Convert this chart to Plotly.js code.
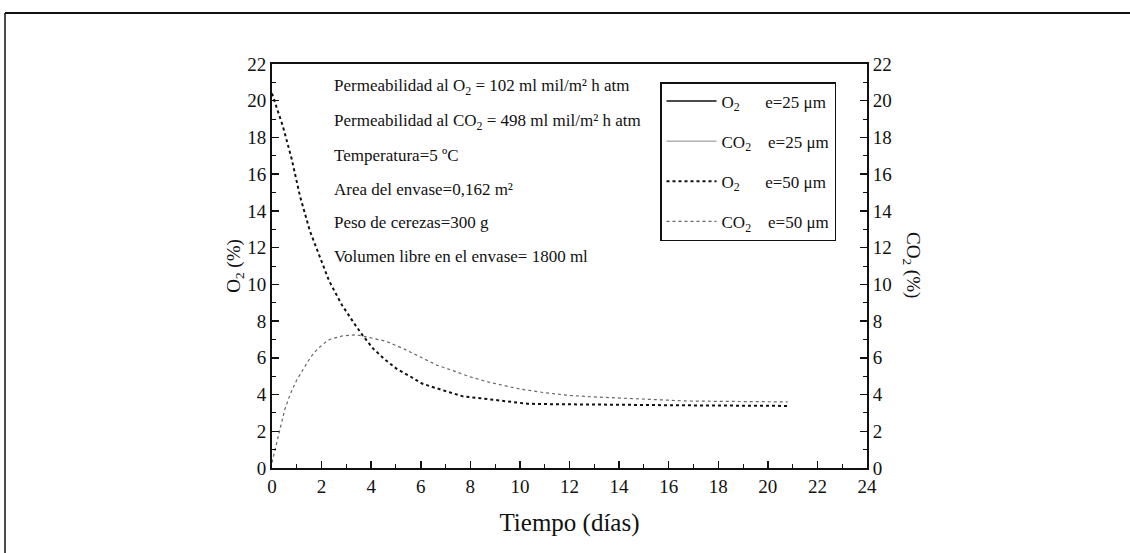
<!DOCTYPE html>
<html>
<head>
<meta charset="utf-8">
<script src="https://cdn.plot.ly/plotly-3.0.1.min.js"></script>
<style>html,body{margin:0;padding:0;background:#fff;}#chart{width:1130px;height:553px;}</style>
</head>
<body>
<div id="chart"></div>
<script>
// Time (days)
const tO2 = [0, 0.44, 0.8, 1.13, 1.53, 2.0, 2.3, 2.81, 3.0, 3.3, 3.67, 4.08, 4.56, 5.03, 5.56, 6.05, 6.5, 7.18, 7.7, 8.4, 9.07, 9.7, 10.3, 11, 12, 13, 14, 15, 16, 17, 18, 19, 20, 20.8];
const o2_50 = [20.4, 18.6, 16.8, 14.8, 12.9, 11.2, 10.2, 8.9, 8.5, 7.9, 7.2, 6.5, 5.9, 5.4, 5.0, 4.6, 4.4, 4.1, 3.9, 3.8, 3.7, 3.6, 3.5, 3.48, 3.46, 3.45, 3.44, 3.43, 3.42, 3.41, 3.4, 3.4, 3.39, 3.38];
const tCO2 = [0, 0.05, 0.19, 0.32, 0.52, 0.73, 1.0, 1.25, 1.45, 1.65, 1.85, 2.2, 2.33, 2.86, 3.4, 3.95, 4.6, 5.3, 5.97, 6.65, 7.3, 7.98, 8.66, 9.3, 10.0, 11, 12, 13, 14, 15, 16, 16.7, 18, 19, 20, 20.8];
const co2_50 = [0.3, 0.6, 1.3, 2.1, 3.2, 4.0, 4.8, 5.4, 5.8, 6.2, 6.5, 6.9, 7.0, 7.2, 7.25, 7.1, 6.9, 6.5, 6.05, 5.6, 5.3, 4.97, 4.7, 4.5, 4.3, 4.1, 3.95, 3.87, 3.8, 3.74, 3.68, 3.65, 3.63, 3.62, 3.61, 3.6];
const xTicks = [0, 2, 4, 6, 8, 10, 12, 14, 16, 18, 20, 22, 24];
const yTicks = [0, 2, 4, 6, 8, 10, 12, 14, 16, 18, 20, 22];
const notes = [
  "Permeabilidad al O<sub>2</sub> = 102 ml mil/m² h atm",
  "Permeabilidad al CO<sub>2</sub> = 498 ml mil/m² h atm",
  "Temperatura=5 ºC",
  "Area del envase=0,162 m²",
  "Peso de cerezas=300 g",
  "Volumen libre en el envase= 1800 ml"
];
const seriesNames = [
  "O<sub>2</sub>      e=25 μm",
  "CO<sub>2</sub>    e=25 μm",
  "O<sub>2</sub>      e=50 μm",
  "CO<sub>2</sub>    e=50 μm"
];

const FONT = "Liberation Serif, Times New Roman, serif";
const traces = [
  {x: [null], y: [null], name: seriesNames[0], type: 'scatter', mode: 'lines', line: {color: '#111', width: 1.5, dash: 'solid'}, legendgroup: 'a', showlegend: true},
  {x: [null], y: [null], name: seriesNames[1], type: 'scatter', mode: 'lines', line: {color: '#888', width: 1, dash: 'solid'}, legendgroup: 'b', showlegend: true},
  {x: tO2, y: o2_50, name: seriesNames[2], type: 'scatter', mode: 'lines', line: {color: '#111', width: 2, dash: 'dot'}, legendgroup: 'c'},
  {x: tCO2, y: co2_50, name: seriesNames[3], type: 'scatter', mode: 'lines', yaxis: 'y2', line: {color: '#666', width: 1.2, dash: 'dot'}, legendgroup: 'd'}
];

const L = 272, R = 867, T = 64, B = 468, W = 1130, H = 553;
const px = v => (v - L) / (R - L);
const py = v => (B - v) / (B - T);

const annotations = [];
const noteY = [87, 122, 155, 189, 222, 256];
notes.forEach((t, i) => annotations.push({
  text: t, xref: 'paper', yref: 'paper', x: px(332), y: py(noteY[i]),
  xanchor: 'left', yanchor: 'middle', showarrow: false,
  font: {family: FONT, size: 17, color: '#111'}
}));
annotations.push({
  text: "CO<sub>2</sub> (%)", xref: 'paper', yref: 'paper', x: px(912), y: py(265),
  xanchor: 'center', yanchor: 'middle', textangle: 90, showarrow: false,
  font: {family: FONT, size: 19, color: '#111'}
});

const axisCommon = {
  ticks: 'inside', ticklen: 7, tickwidth: 1.5, tickcolor: '#111',
  showline: true, linewidth: 2, linecolor: '#111', showgrid: false, zeroline: false,
  tickfont: {family: FONT, size: 19, color: '#111'},
  minor: {ticks: 'inside', ticklen: 4, tickwidth: 1, tickcolor: '#111', dtick: 1}
};

const layout = {
  width: W, height: H,
  margin: {l: L, r: W - R, t: T, b: H - B},
  paper_bgcolor: '#fff', plot_bgcolor: '#fff',
  font: {family: FONT, color: '#111'},
  showlegend: true,
  legend: {
    x: px(660), y: py(82), xanchor: 'left', yanchor: 'top',
    bgcolor: '#fff', bordercolor: '#111', borderwidth: 1.5,
    font: {family: FONT, size: 17, color: '#111'},
    tracegroupgap: 15, itemwidth: 50
  },
  xaxis: Object.assign({}, axisCommon, {
    range: [0, 24], tickvals: xTicks, ticktext: xTicks.map(String), mirror: true,
    title: {text: "Tiempo (días)", font: {family: FONT, size: 25, color: '#111'}, standoff: 18}
  }),
  yaxis: Object.assign({}, axisCommon, {
    range: [0, 22], tickvals: yTicks, ticktext: yTicks.map(String),
    title: {text: "O<sub>2</sub> (%)", font: {family: FONT, size: 19, color: '#111'}, standoff: 0}
  }),
  yaxis2: Object.assign({}, axisCommon, {
    range: [0, 22], tickvals: yTicks, ticktext: yTicks.map(String),
    overlaying: 'y', side: 'right'
  }),
  annotations: annotations,
  shapes: [
    {type: 'line', xref: 'paper', yref: 'paper', x0: px(5), x1: px(1130), y0: py(13), y1: py(13), line: {color: '#111', width: 2}},
    {type: 'line', xref: 'paper', yref: 'paper', x0: px(5), x1: px(5), y0: py(13), y1: py(553), line: {color: '#111', width: 1.5}}
  ]
};

Plotly.newPlot('chart', traces, layout, {displayModeBar: false, staticPlot: true});
</script>
</body>
</html>
